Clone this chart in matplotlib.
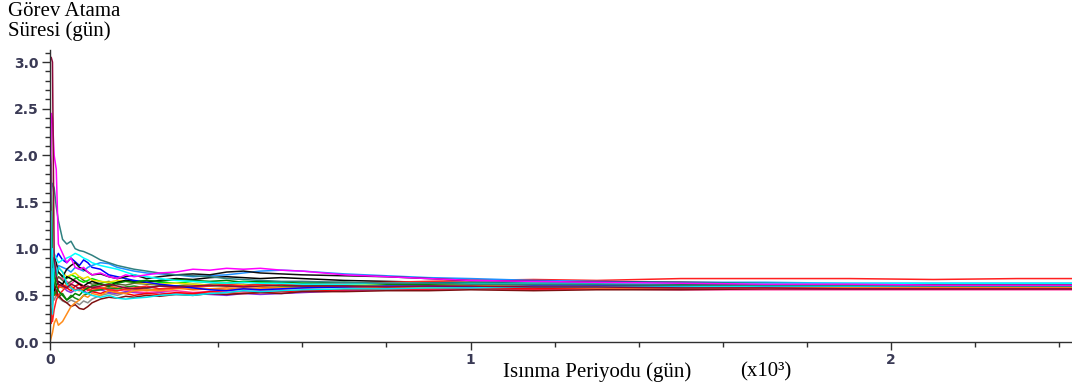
import matplotlib
matplotlib.use("Agg")
import matplotlib.pyplot as plt
from matplotlib.ticker import MultipleLocator, FixedLocator

# x ekseni (x10^3 gün)
xg = [0, 0.003, 0.006, 0.01, 0.015, 0.02, 0.03, 0.04, 0.05, 0.06, 0.07, 0.08, 0.09, 0.1,
      0.12, 0.14, 0.16, 0.18, 0.2, 0.23, 0.26, 0.3, 0.34, 0.38, 0.42, 0.46, 0.5, 0.55,
      0.6, 0.7, 0.8, 0.9, 1.0, 1.15, 1.3, 1.5, 1.7, 1.9, 2.1, 2.3, 2.43]

s_crimson = [3.05, 3.05, 3.0, 0.9, 0.7, 0.62, 0.6, 0.58, 0.62, 0.6, 0.57, 0.59, 0.6, 0.58, 0.6, 0.62, 0.6, 0.58, 0.57, 0.58, 0.6, 0.59, 0.6, 0.61, 0.6, 0.59, 0.6, 0.61, 0.6, 0.6, 0.59, 0.6, 0.6, 0.59, 0.59, 0.58, 0.58, 0.57, 0.57, 0.57, 0.57]
s_magenta = [0.5, 2.45, 2.4, 2.0, 1.85, 1.05, 0.95, 0.85, 0.9, 0.8, 0.78, 0.8, 0.75, 0.72, 0.74, 0.7, 0.68, 0.72, 0.7, 0.72, 0.74, 0.75, 0.78, 0.77, 0.79, 0.78, 0.79, 0.77, 0.76, 0.72, 0.7, 0.68, 0.66, 0.65, 0.64, 0.63, 0.62, 0.62, 0.61, 0.61, 0.61]
s_teal = [1.2, 1.6, 1.7, 1.65, 1.45, 1.3, 1.1, 1.05, 1.08, 1.0, 0.98, 0.97, 0.95, 0.93, 0.88, 0.85, 0.82, 0.8, 0.78, 0.76, 0.74, 0.72, 0.71, 0.7, 0.68, 0.67, 0.66, 0.65, 0.65, 0.64, 0.63, 0.63, 0.62, 0.62, 0.62, 0.61, 0.61, 0.61, 0.6, 0.6, 0.6]
s_green = [2.05, 1.9, 0.9, 0.75, 0.6, 0.55, 0.5, 0.45, 0.48, 0.52, 0.5, 0.55, 0.58, 0.6, 0.62, 0.6, 0.63, 0.65, 0.64, 0.66, 0.65, 0.67, 0.66, 0.65, 0.66, 0.64, 0.65, 0.64, 0.63, 0.64, 0.62, 0.62, 0.63, 0.62, 0.62, 0.61, 0.61, 0.61, 0.61, 0.61, 0.61]
s_cyan_a = [0.0, 1.4, 0.3, 0.9, 0.7, 0.8, 0.75, 0.62, 0.58, 0.55, 0.56, 0.53, 0.52, 0.5, 0.48, 0.5, 0.47, 0.46, 0.47, 0.48, 0.5, 0.51, 0.5, 0.52, 0.53, 0.55, 0.54, 0.55, 0.56, 0.57, 0.57, 0.58, 0.58, 0.59, 0.59, 0.59, 0.6, 0.6, 0.6, 0.6, 0.6]
s_cyan_b = [0.3, 0.8, 1.0, 0.95, 0.9, 0.85, 0.88, 0.9, 0.92, 0.95, 0.93, 0.9, 0.88, 0.85, 0.82, 0.8, 0.78, 0.75, 0.72, 0.7, 0.68, 0.66, 0.65, 0.64, 0.63, 0.64, 0.63, 0.63, 0.62, 0.62, 0.63, 0.63, 0.63, 0.63, 0.63, 0.63, 0.63, 0.63, 0.63, 0.63, 0.63]
s_orange = [0.0, 0.05, 0.1, 0.2, 0.25, 0.18, 0.22, 0.3, 0.38, 0.42, 0.45, 0.5, 0.48, 0.52, 0.5, 0.55, 0.53, 0.52, 0.55, 0.56, 0.55, 0.57, 0.58, 0.57, 0.56, 0.58, 0.57, 0.58, 0.58, 0.59, 0.58, 0.58, 0.59, 0.59, 0.58, 0.58, 0.58, 0.58, 0.58, 0.58, 0.58]
s_red = [0.15, 0.3, 0.22, 0.35, 0.45, 0.5, 0.55, 0.6, 0.58, 0.55, 0.58, 0.6, 0.55, 0.57, 0.58, 0.56, 0.55, 0.57, 0.58, 0.6, 0.57, 0.58, 0.59, 0.6, 0.62, 0.6, 0.62, 0.63, 0.62, 0.63, 0.64, 0.65, 0.66, 0.67, 0.66, 0.68, 0.68, 0.68, 0.67, 0.68, 0.68]
s_maroon = [0.6, 0.8, 0.7, 0.6, 0.55, 0.5, 0.45, 0.42, 0.38, 0.4, 0.36, 0.35, 0.38, 0.42, 0.46, 0.48, 0.47, 0.49, 0.48, 0.5, 0.49, 0.51, 0.5, 0.52, 0.51, 0.52, 0.53, 0.52, 0.54, 0.54, 0.55, 0.55, 0.56, 0.55, 0.56, 0.56, 0.57, 0.57, 0.57, 0.57, 0.57]
s_black_a = [0.5, 1.0, 0.8, 0.9, 0.85, 0.75, 0.7, 0.78, 0.82, 0.85, 0.8, 0.78, 0.75, 0.72, 0.73, 0.7, 0.68, 0.7, 0.72, 0.68, 0.7, 0.72, 0.73, 0.72, 0.75, 0.76, 0.74, 0.73, 0.72, 0.71, 0.7, 0.68, 0.66, 0.65, 0.64, 0.64, 0.63, 0.62, 0.62, 0.62, 0.62]
s_black_b = [0.8, 0.6, 0.7, 0.55, 0.6, 0.65, 0.62, 0.7, 0.68, 0.65, 0.62, 0.6, 0.63, 0.65, 0.62, 0.6, 0.64, 0.66, 0.65, 0.64, 0.66, 0.68, 0.67, 0.69, 0.7, 0.69, 0.68, 0.69, 0.68, 0.66, 0.65, 0.64, 0.64, 0.63, 0.63, 0.62, 0.62, 0.61, 0.61, 0.61, 0.61]
s_blue = [1.0, 0.7, 0.9, 0.85, 0.9, 0.95, 0.88, 0.85, 0.9, 0.86, 0.82, 0.88, 0.85, 0.8, 0.78, 0.72, 0.7, 0.68, 0.66, 0.64, 0.62, 0.6, 0.58, 0.56, 0.55, 0.57, 0.56, 0.57, 0.58, 0.59, 0.6, 0.6, 0.59, 0.6, 0.6, 0.6, 0.6, 0.6, 0.6, 0.6, 0.6]
s_skyblue = [0.7, 0.9, 0.6, 0.8, 0.75, 0.82, 0.8, 0.78, 0.75, 0.8, 0.78, 0.76, 0.8, 0.82, 0.85, 0.84, 0.8, 0.78, 0.76, 0.74, 0.73, 0.72, 0.7, 0.71, 0.72, 0.74, 0.76, 0.77, 0.76, 0.73, 0.71, 0.69, 0.68, 0.66, 0.65, 0.64, 0.64, 0.63, 0.63, 0.63, 0.63]
s_yellow = [0.9, 0.6, 0.8, 0.7, 0.72, 0.8, 0.75, 0.7, 0.72, 0.74, 0.7, 0.68, 0.7, 0.66, 0.65, 0.64, 0.66, 0.65, 0.64, 0.63, 0.62, 0.63, 0.62, 0.61, 0.62, 0.61, 0.6, 0.61, 0.62, 0.62, 0.61, 0.61, 0.61, 0.61, 0.6, 0.6, 0.6, 0.6, 0.6, 0.6, 0.6]
s_grey = [0.6, 0.4, 0.5, 0.45, 0.5, 0.48, 0.44, 0.42, 0.45, 0.43, 0.4, 0.44, 0.42, 0.46, 0.5, 0.52, 0.5, 0.53, 0.55, 0.57, 0.56, 0.58, 0.6, 0.62, 0.63, 0.62, 0.6, 0.61, 0.6, 0.59, 0.6, 0.61, 0.6, 0.6, 0.59, 0.59, 0.59, 0.59, 0.59, 0.59, 0.59]
s_purple = [0.4, 0.7, 0.5, 0.6, 0.55, 0.58, 0.6, 0.55, 0.53, 0.56, 0.58, 0.55, 0.52, 0.54, 0.56, 0.53, 0.52, 0.54, 0.53, 0.52, 0.53, 0.51, 0.52, 0.51, 0.5, 0.52, 0.51, 0.52, 0.53, 0.55, 0.56, 0.57, 0.57, 0.58, 0.58, 0.58, 0.58, 0.58, 0.58, 0.58, 0.58]
s_lime = [0.7, 0.5, 0.65, 0.6, 0.7, 0.75, 0.7, 0.68, 0.72, 0.7, 0.66, 0.64, 0.66, 0.68, 0.65, 0.63, 0.64, 0.66, 0.65, 0.66, 0.64, 0.63, 0.65, 0.64, 0.63, 0.65, 0.64, 0.63, 0.63, 0.62, 0.62, 0.62, 0.62, 0.62, 0.62, 0.61, 0.61, 0.61, 0.61, 0.61, 0.61]
s_dkgreen = [0.9, 1.0, 0.7, 0.5, 0.55, 0.48, 0.52, 0.45, 0.5, 0.47, 0.45, 0.5, 0.52, 0.55, 0.56, 0.58, 0.57, 0.59, 0.6, 0.58, 0.6, 0.6, 0.59, 0.6, 0.61, 0.6, 0.61, 0.6, 0.6, 0.61, 0.61, 0.61, 0.61, 0.61, 0.61, 0.61, 0.61, 0.61, 0.61, 0.61, 0.61]
s_pink = [0.3, 0.5, 0.8, 0.6, 0.65, 0.7, 0.68, 0.65, 0.62, 0.66, 0.63, 0.6, 0.58, 0.6, 0.58, 0.57, 0.55, 0.56, 0.54, 0.53, 0.54, 0.55, 0.53, 0.54, 0.55, 0.54, 0.55, 0.56, 0.55, 0.56, 0.56, 0.56, 0.57, 0.56, 0.57, 0.56, 0.56, 0.56, 0.56, 0.56, 0.56]
s_dkorange = [0.5, 0.8, 0.6, 0.55, 0.5, 0.6, 0.58, 0.62, 0.6, 0.56, 0.55, 0.57, 0.58, 0.55, 0.57, 0.6, 0.58, 0.56, 0.57, 0.55, 0.57, 0.58, 0.56, 0.57, 0.58, 0.57, 0.58, 0.59, 0.59, 0.6, 0.59, 0.59, 0.59, 0.59, 0.59, 0.59, 0.59, 0.59, 0.59, 0.59, 0.59]
s_olive = [0.8, 0.6, 0.75, 0.7, 0.65, 0.7, 0.66, 0.62, 0.65, 0.68, 0.7, 0.66, 0.64, 0.62, 0.63, 0.65, 0.62, 0.61, 0.63, 0.62, 0.61, 0.6, 0.62, 0.61, 0.6, 0.61, 0.62, 0.63, 0.62, 0.61, 0.61, 0.62, 0.62, 0.62, 0.62, 0.62, 0.62, 0.62, 0.62, 0.62, 0.62]
s_red_b = [0.5, 0.2, 0.4, 0.55, 0.5, 0.6, 0.62, 0.58, 0.55, 0.6, 0.62, 0.58, 0.56, 0.54, 0.52, 0.55, 0.53, 0.52, 0.5, 0.52, 0.51, 0.53, 0.52, 0.54, 0.53, 0.52, 0.53, 0.54, 0.55, 0.56, 0.57, 0.57, 0.58, 0.57, 0.58, 0.58, 0.58, 0.58, 0.58, 0.58, 0.58]

y_ticks = [0.0, 0.5, 1.0, 1.5, 2.0, 2.5, 3.0]
x_ticks = [0, 1, 2]

seriler = [
    (s_grey, '#8c8c8c'), (s_purple, '#8a2be2'), (s_pink, '#ff3399'), (s_dkorange, '#ff6a00'),
    (s_olive, '#556b2f'), (s_red_b, '#ff0000'), (s_lime, '#00e600'), (s_dkgreen, '#1a8a1a'),
    (s_yellow, '#f0e000'), (s_black_b, '#000000'), (s_maroon, '#7f1010'), (s_orange, '#ff8c1a'),
    (s_red, '#ff2020'), (s_blue, '#0000ff'), (s_skyblue, '#1e90ff'), (s_black_a, '#101010'),
    (s_green, '#008000'), (s_cyan_a, '#00e5ee'), (s_cyan_b, '#00ffff'), (s_teal, '#2f8080'),
    (s_magenta, '#ff00ff'), (s_crimson, '#8b0a3a'),
]

fig = plt.figure(figsize=(10.72, 3.9), dpi=100)
ax = fig.add_axes([0.0466, 0.123, 0.9534, 0.749])

for vals, renk in seriler:
    ax.plot(xg, vals, color=renk, lw=1.1)

ax.set_xlim(0, 2.43)
ax.set_ylim(0, 3.13)
for s in ['top', 'right']:
    ax.spines[s].set_visible(False)
for s in ['left', 'bottom']:
    ax.spines[s].set_color('#303030')
    ax.spines[s].set_linewidth(1.0)

ax.yaxis.set_major_locator(FixedLocator(y_ticks))
ax.yaxis.set_minor_locator(MultipleLocator(0.1))
ax.xaxis.set_major_locator(FixedLocator(x_ticks))
ax.xaxis.set_minor_locator(FixedLocator([0.2, 0.4, 0.6, 0.8, 1.2, 1.4, 1.6, 1.8, 2.2, 2.4]))
ax.set_xticklabels([str(v) for v in x_ticks])
ax.set_yticklabels([f'{v:.1f}' for v in y_ticks])
ax.tick_params(which='major', length=5.5, width=1, color='#303030', labelsize=10,
               labelcolor='#3a3a55', pad=2.5)
ax.tick_params(which='minor', length=3.6, width=1, color='#303030')
for t in ax.get_xticklabels() + ax.get_yticklabels():
    t.set_fontweight('bold')

fig.text(0.007, 0.995, 'Görev Atama\nSüresi (gün)', family='Liberation Serif',
         fontsize=15, va='top', ha='left', linespacing=1.0)
fig.text(0.469, 0.046, 'Isınma Periyodu (gün)', family='Liberation Serif',
         fontsize=15, va='center', ha='left')
fig.text(0.690, 0.046, '(x10³)', family='Liberation Serif',
         fontsize=15, va='center', ha='left')

fig.savefig('out.png', dpi=100)
